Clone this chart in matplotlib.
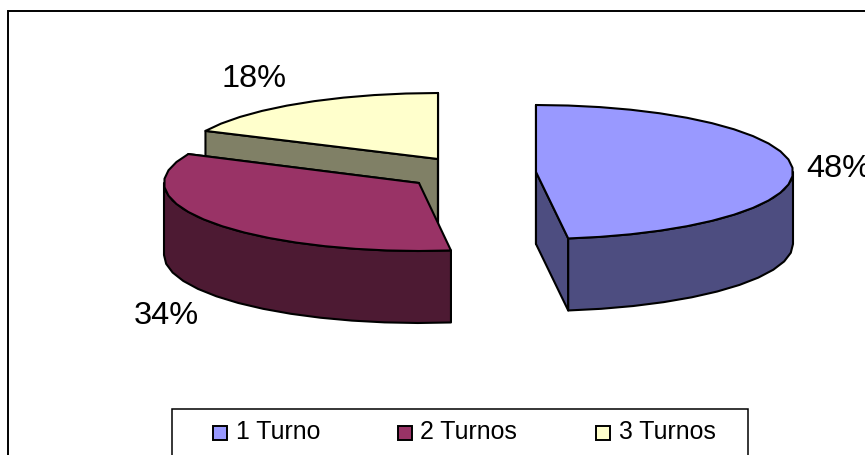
import numpy as np
import matplotlib.pyplot as plt
from matplotlib.patches import Polygon, Rectangle

plt.rcParams['font.family'] = ['Liberation Sans', 'DejaVu Sans']

# datos
categorias = ['1 Turno', '2 Turnos', '3 Turnos']
valores = [48, 34, 18]

# colores de cada porcion (cara superior y lateral)
color_top = ['#9999FF', '#993366', '#FFFFCC']
color_lado = ['#4D4D80', '#4D1A33', '#808066']

# centro de cada porcion desplazada y radios de la elipse, en pixeles
centros = [(536, 172), (419, 183), (438, 159)]
radios = [(257, 67), (255, 68), (257, 66)]
alto = 72

# posicion de las etiquetas y de la leyenda
pos_etiqueta = [(806, 177), (134, 324), (222, 87)]
pos_leyenda = [(213, 236), (398, 420), (596, 619)]


def borde(centro, radio, a0, a1):
    # arco en tramos cortos, angulos desde las 12 en sentido horario
    n = max(int((a1 - a0) / 7), 2)
    t = np.radians(np.linspace(a0, a1, n + 1))
    x = centro[0] + radio[0] * np.sin(t)
    y = centro[1] - radio[1] * np.cos(t)
    return np.column_stack([x, y])


def cara(ax, puntos, color, z):
    ax.add_patch(Polygon(puntos, closed=True, facecolor=color, edgecolor='black',
                         linewidth=1.5, joinstyle='round', zorder=z))


fig = plt.figure(figsize=(8.65, 4.55), dpi=100)
ax = fig.add_axes([0, 0, 1, 1])
ax.set_xlim(0, 865)
ax.set_ylim(455, 0)
ax.axis('off')

# marco del grafico
ax.add_patch(Rectangle((8, 11), 900, 500, facecolor='white', edgecolor='black',
                       linewidth=1.4, zorder=0))

# angulos de inicio y fin de cada porcion
fin = np.cumsum(valores) / sum(valores) * 360
inicio = np.concatenate([[0], fin[:-1]])

# se dibuja de atras hacia adelante
for i in [2, 0, 1]:
    c, r = centros[i], radios[i]
    a0, a1 = inicio[i], fin[i]
    z = {2: 1, 0: 2, 1: 3}[i] * 10
    arco = borde(c, r, a0, a1)
    abajo = np.array([0, alto])

    # caras del corte visibles
    for a in (a0, a1):
        p = borde(c, r, a, a + 0.01)[0]
        if i == 1 and a == a0:
            continue
        cara(ax, [c, p, p + abajo, np.array(c) + abajo], color_lado[i], z)

    # pared curva, solo la parte frontal
    t0, t1 = max(a0, 90), min(a1, 270)
    if t1 > t0:
        frente = borde(c, r, t0, t1)
        cara(ax, np.vstack([frente, (frente + abajo)[::-1]]), color_lado[i], z + 1)

    # cara superior
    cara(ax, np.vstack([[c], arco]), color_top[i], z + 2)

# etiquetas de porcentaje
for v, (x, y) in zip(valores, pos_etiqueta):
    ax.text(x, y, f'{v}%', fontsize=23.4, ha='left', va='baseline', color='black',
            zorder=50, clip_on=True)

# leyenda
ax.add_patch(Rectangle((172, 409), 576, 60, facecolor='white', edgecolor='black',
                       linewidth=1.1, zorder=40))
for nombre, color, (xc, xt) in zip(categorias, color_top, pos_leyenda):
    ax.add_patch(Rectangle((xc, 426), 14, 14, facecolor=color, edgecolor='black',
                           linewidth=1.4, zorder=41))
    ax.text(xt, 439, nombre, fontsize=17.9, ha='left', va='baseline', color='black', zorder=41)

fig.savefig('out.png', dpi=100, facecolor='white')
